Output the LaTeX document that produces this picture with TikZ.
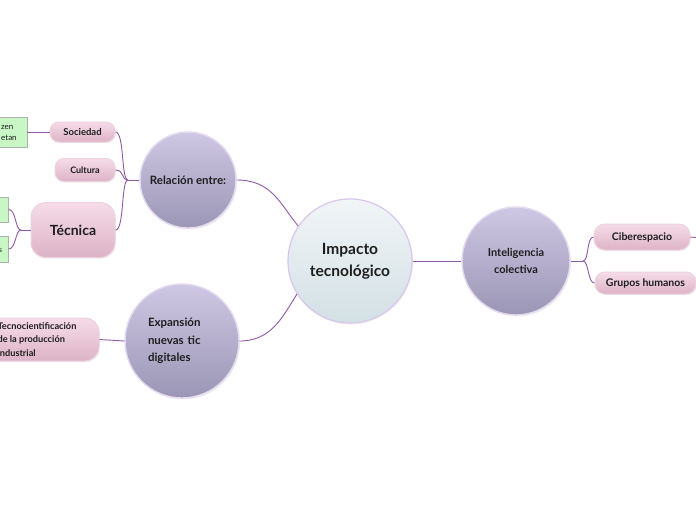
\documentclass[tikz,border=0pt]{standalone}
\usepackage{fontspec}
\setmainfont{Lato}
\usetikzlibrary{shadows}
\definecolor{conn}{HTML}{8E5AA8}
\definecolor{lavtop}{HTML}{CEC8E4}
\definecolor{lavbot}{HTML}{9C96B6}
\definecolor{cirborder}{HTML}{E6DAF0}
\definecolor{centop}{HTML}{F1F5F7}
\definecolor{cenbot}{HTML}{D3E0E5}
\definecolor{cenborder}{HTML}{D9C6EC}
\definecolor{pinktop}{HTML}{F6DCE8}
\definecolor{pinkbot}{HTML}{DDB3C6}
\definecolor{pinkborder}{HTML}{EDD3E2}
\definecolor{greenfill}{HTML}{C8F7C5}
\definecolor{greenborder}{HTML}{A9B3A9}
\definecolor{txt}{HTML}{1E1E1E}
\tikzset{
  conn/.style={draw=conn, line width=0.9pt},
  lavcircle/.style={circle, inner sep=0pt, top color=lavtop, bottom color=lavbot, draw=cirborder, line width=1.4pt, text=txt, font=\bfseries, drop shadow={opacity=0.12, shadow xshift=1pt, shadow yshift=-1.5pt}},
  cencircle/.style={circle, inner sep=0pt, top color=centop, bottom color=cenbot, draw=cenborder, line width=1.2pt, text=txt, font=\bfseries, drop shadow={opacity=0.12, shadow xshift=1pt, shadow yshift=-1.5pt}},
  pill/.style={rectangle, rounded corners=9pt, inner sep=0pt, top color=pinktop, bottom color=pinkbot, draw=pinkborder, line width=1pt, text=txt, font=\bfseries, drop shadow={opacity=0.12, shadow xshift=0.8pt, shadow yshift=-1.2pt}},
  greenbox/.style={rectangle, inner sep=0pt, fill=greenfill, draw=greenborder, line width=0.8pt},
}
\begin{document}
\begin{tikzpicture}[x=1pt,y=-1pt]
\useasboundingbox (0,0) rectangle (696,520);
\fill[white] (0,0) rectangle (696,520);

% central
\node[cencircle, minimum size=124pt, font=\bfseries\fontsize{15.5}{22}\selectfont, align=center] (cen) at (350,261) {Impacto\\tecnológico};

% main topics
\node[lavcircle, minimum size=96pt, font=\bfseries\fontsize{11.5}{14}\selectfont] (rel) at (188,180) {Relación entre:};
\node[lavcircle, minimum size=114pt, font=\bfseries\fontsize{11.5}{17.5}\selectfont, text width=68pt, align=left] (exp) at (182,341) {Expansión\\nuevas tic\\digitales};
\node[lavcircle, minimum size=108pt, font=\bfseries\fontsize{11}{17}\selectfont, align=center] (int) at (516,261) {Inteligencia\\colectiva};

% children of Relación
\node[pill, minimum width=65pt, minimum height=20pt, font=\bfseries\fontsize{9.5}{10}\selectfont] (soc) at (82.5,132) {Sociedad};
\node[pill, minimum width=60pt, minimum height=23pt, font=\bfseries\fontsize{9}{10}\selectfont] (cul) at (85,170) {Cultura};
\node[pill, rounded corners=15pt, minimum width=84pt, minimum height=55pt, font=\bfseries\fontsize{14}{16}\selectfont] (tec) at (73,230) {Técnica};

% green boxes (partly outside)
\node[greenbox, minimum width=60pt, minimum height=30pt] (g1) at (-3,132) {};
\node[anchor=west, align=left, text=txt, font=\fontsize{8}{11}\selectfont, inner sep=0pt] (g1t) at (1,132.5) {zen\\etan};
\node[greenbox, minimum width=40pt, minimum height=25pt] (g2) at (-12,209.5) {};
\node[greenbox, minimum width=40pt, minimum height=26pt] (g3) at (-12,249) {};
\node[anchor=west, text=txt, font=\fontsize{8}{10}\selectfont, inner sep=0pt] (g3t) at (-1.5,250) {s};

% Expansión child
\node[pill, rounded corners=14pt, minimum width=124pt, minimum height=43pt, font=\bfseries\fontsize{9.2}{13.5}\selectfont, align=left] (tcn) at (37,339.5) {Tecnocientificación\\de la producción\\industrial};

% Inteligencia children
\node[pill, rounded corners=11pt, minimum width=96pt, minimum height=26pt, font=\bfseries\fontsize{10.5}{11}\selectfont] (cib) at (642,237) {Ciberespacio};
\node[pill, rounded corners=10pt, minimum width=101pt, minimum height=22pt, font=\bfseries\fontsize{10.5}{11}\selectfont] (gru) at (645.5,283) {Grupos humanos};

% connectors
\draw[conn] (rel.east) .. controls +(35,0) and +(-18,-22) .. (cen.146);
\draw[conn] (exp.east) .. controls +(32,0) and +(-14,22) .. (cen.212);
\draw[conn] (cen.east) -- (int.west);

\coordinate (rf) at (128,180);
\draw[conn] (rel.west) -- (rf);
\draw[conn] (rf) .. controls +(-7,0) and +(9,0) .. (soc.east);
\draw[conn] (rf) .. controls +(-7,0) and +(9,0) .. (cul.east);
\draw[conn] (rf) .. controls +(-7,0) and +(9,0) .. (tec.east);

\draw[conn] (soc.west) -- (g1.east);

\coordinate (tf) at (21,230);
\draw[conn] (tec.west) -- (tf);
\draw[conn] (tf) .. controls +(-6,0) and +(8,0) .. (g2.east);
\draw[conn] (tf) .. controls +(-6,0) and +(8,0) .. (g3.east);

\draw[conn] (exp.west) -- (tcn.east);

\coordinate (if) at (583,261);
\draw[conn] (int.east) -- (if);
\draw[conn] (if) .. controls +(6,0) and +(-7,0) .. (cib.west);
\draw[conn] (if) .. controls +(6,0) and +(-7,0) .. (gru.west);

\coordinate (cr) at (700,238);
\draw[conn] (cib.east) -- (cr);
\end{tikzpicture}
\end{document}
